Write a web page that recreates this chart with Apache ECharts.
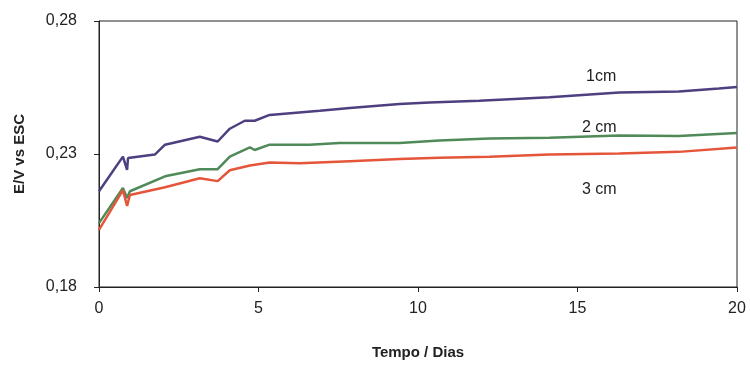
<!DOCTYPE html>
<html>
<head>
<meta charset="utf-8">
<script src="https://cdn.jsdelivr.net/npm/echarts@6/dist/echarts.min.js"></script>
<style>
  html, body { margin: 0; padding: 0; background: #fff; }
  #chart { width: 750px; height: 365px; }
</style>
</head>
<body>
<div id="chart"></div>
<script>
// dias
var days1 = [0, 0.75, 0.88, 0.91, 1.75, 2.07, 3.16, 3.72, 4.1, 4.57, 4.88, 5.35, 6.92, 7.86, 9.42, 10.36, 11.92, 14.12, 16.31, 18.18, 19.43, 20];
var cm1 = [0.216, 0.229, 0.224, 0.2285, 0.2298, 0.2335, 0.2365, 0.2347, 0.2395, 0.2425, 0.2425, 0.2447, 0.2463, 0.2473, 0.2488, 0.2494, 0.2500, 0.2513, 0.2531, 0.2535, 0.2546, 0.2552];

var days2 = [0, 0.75, 0.88, 0.97, 2.07, 3.16, 3.72, 4.1, 4.73, 4.88, 5.35, 6.6, 7.54, 9.42, 10.67, 12.24, 14.12, 16.31, 18.18, 20];
var cm2 = [0.204, 0.2172, 0.2135, 0.216, 0.2216, 0.2243, 0.2243, 0.229, 0.2325, 0.2315, 0.2335, 0.2335, 0.2341, 0.2341, 0.2351, 0.2358, 0.2361, 0.237, 0.2368, 0.2379];

var days3 = [0, 0.75, 0.88, 0.97, 2.07, 3.16, 3.72, 4.1, 4.73, 5.35, 6.29, 7.86, 9.42, 10.67, 12.24, 14.12, 16.31, 18.18, 20];
var cm3 = [0.2015, 0.2164, 0.2105, 0.2146, 0.2175, 0.2209, 0.2198, 0.2239, 0.2257, 0.2268, 0.2265, 0.2273, 0.2281, 0.2286, 0.229, 0.2298, 0.2302, 0.2308, 0.2324];

var yTicks = [0.18, 0.23, 0.28];

function pairs(xs, ys) {
  return xs.map(function (x, i) { return [x, ys[i]]; });
}

var myChart = echarts.init(document.getElementById('chart'));
myChart.setOption({
  animation: false,
  backgroundColor: '#ffffff',
  grid: {
    left: 99, right: 13, top: 21, bottom: 75,
    show: true, borderColor: '#222', borderWidth: 1
  },
  xAxis: {
    type: 'value',
    min: 0, max: 20, interval: 5,
    name: 'Tempo / Dias',
    nameLocation: 'middle',
    nameGap: 58,
    nameTextStyle: { fontFamily: 'Liberation Sans', fontSize: 15, fontWeight: 'bold', color: '#222' },
    axisLine: { lineStyle: { color: '#222', width: 1 } },
    axisTick: { inside: false, length: 5, lineStyle: { color: '#222' } },
    axisLabel: { margin: 14, fontFamily: 'Liberation Sans', fontSize: 16, color: '#222' },
    splitLine: { show: false }
  },
  yAxis: {
    type: 'value',
    min: 0.18, max: 0.28,
    name: 'E/V vs ESC',
    nameLocation: 'middle',
    nameGap: 72,
    nameTextStyle: { fontFamily: 'Liberation Sans', fontSize: 15, fontWeight: 'bold', color: '#222' },
    axisLine: { show: true, lineStyle: { color: '#222', width: 1 } },
    axisTick: { show: true, length: 5, customValues: yTicks, lineStyle: { color: '#222' } },
    axisLabel: {
      margin: 22, fontFamily: 'Liberation Sans', fontSize: 16, color: '#222',
      customValues: yTicks,
      formatter: function (v) { return v.toFixed(2).replace('.', ','); }
    },
    splitLine: { show: false }
  },
  series: [
    { name: '1cm', type: 'line', data: pairs(days1, cm1), showSymbol: false,
      lineStyle: { color: '#4e3f80', width: 2.5 }, itemStyle: { color: '#4e3f80' } },
    { name: '2 cm', type: 'line', data: pairs(days2, cm2), showSymbol: false,
      lineStyle: { color: '#4f8a58', width: 2.5 }, itemStyle: { color: '#4f8a58' } },
    { name: '3 cm', type: 'line', data: pairs(days3, cm3), showSymbol: false,
      lineStyle: { color: '#e5553a', width: 2.5 }, itemStyle: { color: '#e5553a' } }
  ],
  graphic: [
    { type: 'text', left: 586, top: 69, style: { text: '1cm', font: '16px "Liberation Sans"', fill: '#222' } },
    { type: 'text', left: 582, top: 120, style: { text: '2 cm', font: '16px "Liberation Sans"', fill: '#222' } },
    { type: 'text', left: 582, top: 182, style: { text: '3 cm', font: '16px "Liberation Sans"', fill: '#222' } }
  ]
});
</script>
</body>
</html>
